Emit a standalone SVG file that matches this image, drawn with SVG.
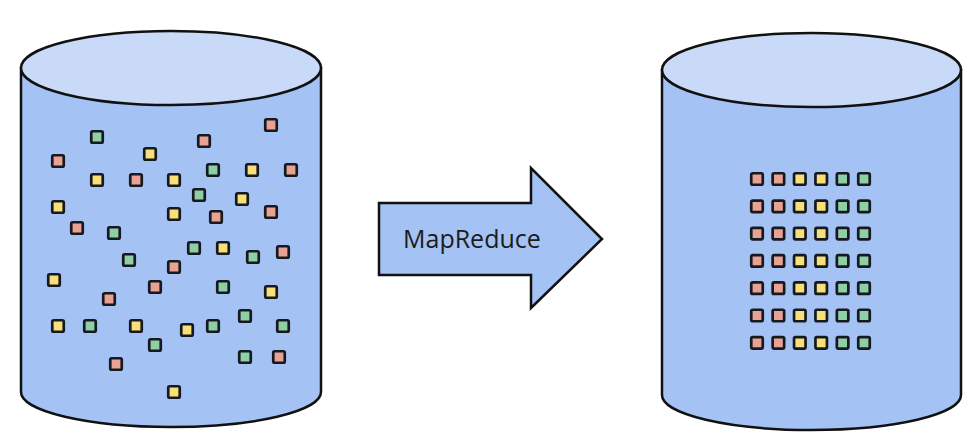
<svg xmlns="http://www.w3.org/2000/svg" width="979" height="447" viewBox="0 0 979 447">
<style>
.body{fill:#a4c2f4;stroke:#111;stroke-width:2.5}
.top{fill:#c9daf8;stroke:#111;stroke-width:2.5}
.sq{stroke:#161a20;stroke-width:2.7}
.p{fill:#e8a193}.y{fill:#f9df78}.g{fill:#8fcfa5}
.lbl{font-family:"Open Sans","Noto Sans",sans-serif;font-size:25px;fill:#1c1c1c}
</style>
<defs>
<rect id="s" x="-5.75" y="-5.75" width="11.5" height="11.5" rx="1.5"/>
</defs>
<g id="source-db">
<path class="body" d="M21,68 L21,392 A150,35 0 0 0 321,392 L321,68 Z"/>
<ellipse class="top" cx="171" cy="68" rx="150" ry="37"/>
<g class="sq">
<use href="#s" class="g" x="97" y="137"/>
<use href="#s" class="p" x="271" y="125"/>
<use href="#s" class="p" x="204" y="141"/>
<use href="#s" class="y" x="150" y="154"/>
<use href="#s" class="p" x="58" y="161"/>
<use href="#s" class="y" x="97" y="180"/>
<use href="#s" class="p" x="136" y="180"/>
<use href="#s" class="y" x="174" y="180"/>
<use href="#s" class="g" x="213" y="170"/>
<use href="#s" class="y" x="252" y="170"/>
<use href="#s" class="p" x="291" y="170"/>
<use href="#s" class="g" x="199" y="195"/>
<use href="#s" class="y" x="242" y="199"/>
<use href="#s" class="y" x="58" y="207"/>
<use href="#s" class="y" x="174" y="214"/>
<use href="#s" class="p" x="216" y="217"/>
<use href="#s" class="p" x="271" y="212"/>
<use href="#s" class="p" x="77" y="228"/>
<use href="#s" class="g" x="114" y="233"/>
<use href="#s" class="g" x="194" y="248"/>
<use href="#s" class="y" x="223" y="248"/>
<use href="#s" class="g" x="253" y="257"/>
<use href="#s" class="p" x="283" y="252"/>
<use href="#s" class="g" x="129" y="260"/>
<use href="#s" class="p" x="174" y="267"/>
<use href="#s" class="y" x="54" y="280"/>
<use href="#s" class="p" x="155" y="287"/>
<use href="#s" class="g" x="223" y="287"/>
<use href="#s" class="y" x="271" y="292"/>
<use href="#s" class="p" x="109" y="299"/>
<use href="#s" class="y" x="58" y="326"/>
<use href="#s" class="g" x="90" y="326"/>
<use href="#s" class="y" x="136" y="326"/>
<use href="#s" class="y" x="187" y="330"/>
<use href="#s" class="g" x="213" y="326"/>
<use href="#s" class="g" x="245" y="316"/>
<use href="#s" class="g" x="283" y="326"/>
<use href="#s" class="g" x="155" y="345"/>
<use href="#s" class="p" x="116" y="364"/>
<use href="#s" class="g" x="245" y="357"/>
<use href="#s" class="p" x="279" y="357"/>
<use href="#s" class="y" x="174" y="392"/>
</g>
</g>
<g id="mapreduce-arrow">
<path class="body" d="M379,203 L531,203 L531,168 L602,239 L531,308 L531,275 L379,275 Z"/>
<text class="lbl" x="403" y="248">MapReduce</text>
</g>
<g id="target-db">
<path class="body" d="M662,70 L662,395 A149.5,35 0 0 0 961,395 L961,70 Z"/>
<ellipse class="top" cx="811.5" cy="70" rx="149.5" ry="37"/>
<g class="sq" id="grid">
<g transform="translate(0,179)"><use href="#s" class="p" x="757"/><use href="#s" class="p" x="778.4"/><use href="#s" class="y" x="799.8"/><use href="#s" class="y" x="821.2"/><use href="#s" class="g" x="842.6"/><use href="#s" class="g" x="864"/></g>
<g transform="translate(0,206.3)"><use href="#s" class="p" x="757"/><use href="#s" class="p" x="778.4"/><use href="#s" class="y" x="799.8"/><use href="#s" class="y" x="821.2"/><use href="#s" class="g" x="842.6"/><use href="#s" class="g" x="864"/></g>
<g transform="translate(0,233.6)"><use href="#s" class="p" x="757"/><use href="#s" class="p" x="778.4"/><use href="#s" class="y" x="799.8"/><use href="#s" class="y" x="821.2"/><use href="#s" class="g" x="842.6"/><use href="#s" class="g" x="864"/></g>
<g transform="translate(0,260.9)"><use href="#s" class="p" x="757"/><use href="#s" class="p" x="778.4"/><use href="#s" class="y" x="799.8"/><use href="#s" class="y" x="821.2"/><use href="#s" class="g" x="842.6"/><use href="#s" class="g" x="864"/></g>
<g transform="translate(0,288.2)"><use href="#s" class="p" x="757"/><use href="#s" class="p" x="778.4"/><use href="#s" class="y" x="799.8"/><use href="#s" class="y" x="821.2"/><use href="#s" class="g" x="842.6"/><use href="#s" class="g" x="864"/></g>
<g transform="translate(0,315.5)"><use href="#s" class="p" x="757"/><use href="#s" class="p" x="778.4"/><use href="#s" class="y" x="799.8"/><use href="#s" class="y" x="821.2"/><use href="#s" class="g" x="842.6"/><use href="#s" class="g" x="864"/></g>
<g transform="translate(0,342.8)"><use href="#s" class="p" x="757"/><use href="#s" class="p" x="778.4"/><use href="#s" class="y" x="799.8"/><use href="#s" class="y" x="821.2"/><use href="#s" class="g" x="842.6"/><use href="#s" class="g" x="864"/></g>
</g>
</g>
</svg>
